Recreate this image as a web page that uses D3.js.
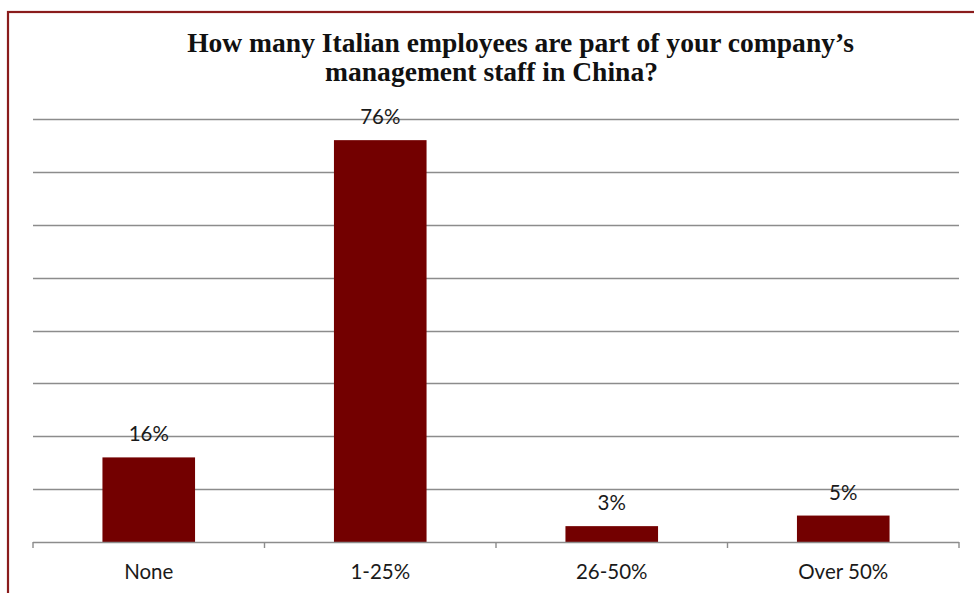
<!DOCTYPE html>
<html><head><meta charset="utf-8">
<script src="https://cdn.jsdelivr.net/npm/d3@7"></script>
<style>html,body{margin:0;padding:0;background:#fff;}svg{display:block;}</style>
</head><body>
<svg id="chart" width="974" height="593"></svg>
<script>
const categories = ["None", "1-25%", "26-50%", "Over 50%"];
const values = [16, 76, 3, 5];
const valueLabels = ["16%", "76%", "3%", "5%"];
const gridTicks = [10, 20, 30, 40, 50, 60, 70, 80];
const titleLines = ["How many Italian employees are part of your company\u2019s", "management staff in China?"];

const svg = d3.select("#chart");
const W = 974, H = 593;
const m = {left: 33, right: 15, top: 119, bottom: 51};
const x0 = m.left, x1 = W - m.right, yBase = H - m.bottom;

// frame
svg.append("rect").attr("x", 8).attr("y", 12).attr("width", 980).attr("height", 600)
  .attr("fill", "none").attr("stroke", "#8a1c1c").attr("stroke-width", 2.2);

const x = d3.scaleBand().domain(categories).range([x0, x1]).paddingInner(0.6).paddingOuter(0.3);
const y = d3.scaleLinear().domain([0, 80]).range([yBase, m.top]);

// gridlines
svg.append("g").selectAll("line").data(gridTicks).join("line")
  .attr("x1", x0).attr("x2", x1)
  .attr("y1", d => Math.round(y(d)) + 0.5).attr("y2", d => Math.round(y(d)) + 0.5)
  .attr("stroke", "#8c8c8c").attr("stroke-width", 1.4);

// bars
svg.append("g").selectAll("rect").data(values).join("rect")
  .attr("x", (d, i) => x(categories[i]))
  .attr("width", x.bandwidth())
  .attr("y", d => y(d))
  .attr("height", d => yBase - y(d))
  .attr("fill", "#730000");

// axis baseline with boundary ticks
const step = (x1 - x0) / categories.length;
const bounds = d3.range(categories.length + 1).map(i => x0 + i * step);
const ax = svg.append("g");
ax.append("line").attr("x1", x0).attr("x2", x1).attr("y1", yBase + 0.5).attr("y2", yBase + 0.5)
  .attr("stroke", "#8c8c8c").attr("stroke-width", 1.4);
ax.selectAll("line.tk").data(bounds).join("line").attr("class", "tk")
  .attr("x1", d => d).attr("x2", d => d).attr("y1", yBase).attr("y2", yBase + 6)
  .attr("stroke", "#8c8c8c").attr("stroke-width", 1.4);

// category labels
svg.append("g").selectAll("text").data(categories).join("text")
  .attr("x", d => x(d) + x.bandwidth() / 2)
  .attr("y", yBase + 37)
  .attr("text-anchor", "middle")
  .attr("font-family", "Lato, 'Open Sans', sans-serif")
  .attr("font-size", 20.5)
  .attr("fill", "#1a1a1a")
  .text(d => d);

// value labels
svg.append("g").selectAll("text").data(values).join("text")
  .attr("x", (d, i) => x(categories[i]) + x.bandwidth() / 2)
  .attr("y", d => y(d) - 16)
  .attr("text-anchor", "middle")
  .attr("font-family", "Lato, 'Open Sans', sans-serif")
  .attr("font-size", 20.5)
  .attr("fill", "#1a1a1a")
  .text((d, i) => valueLabels[i]);

// title
const titleCenters = [520.5, 491.5];
const titleBaselines = [52, 81];
const tg = svg.append("g");
const t1 = tg.append("text").attr("x", titleCenters[0]).attr("y", titleBaselines[0])
  .attr("text-anchor", "middle").attr("font-family", "'Liberation Serif', 'Times New Roman', serif")
  .attr("font-weight", "bold").attr("font-size", 24).attr("fill", "#111").text(titleLines[0]);
const fs = 24 * 667 / t1.node().getComputedTextLength();
t1.attr("font-size", fs);
tg.append("text").attr("x", titleCenters[1]).attr("y", titleBaselines[1])
  .attr("text-anchor", "middle").attr("font-family", "'Liberation Serif', 'Times New Roman', serif")
  .attr("font-weight", "bold").attr("font-size", fs).attr("fill", "#111").text(titleLines[1]);
</script>
</body></html>
